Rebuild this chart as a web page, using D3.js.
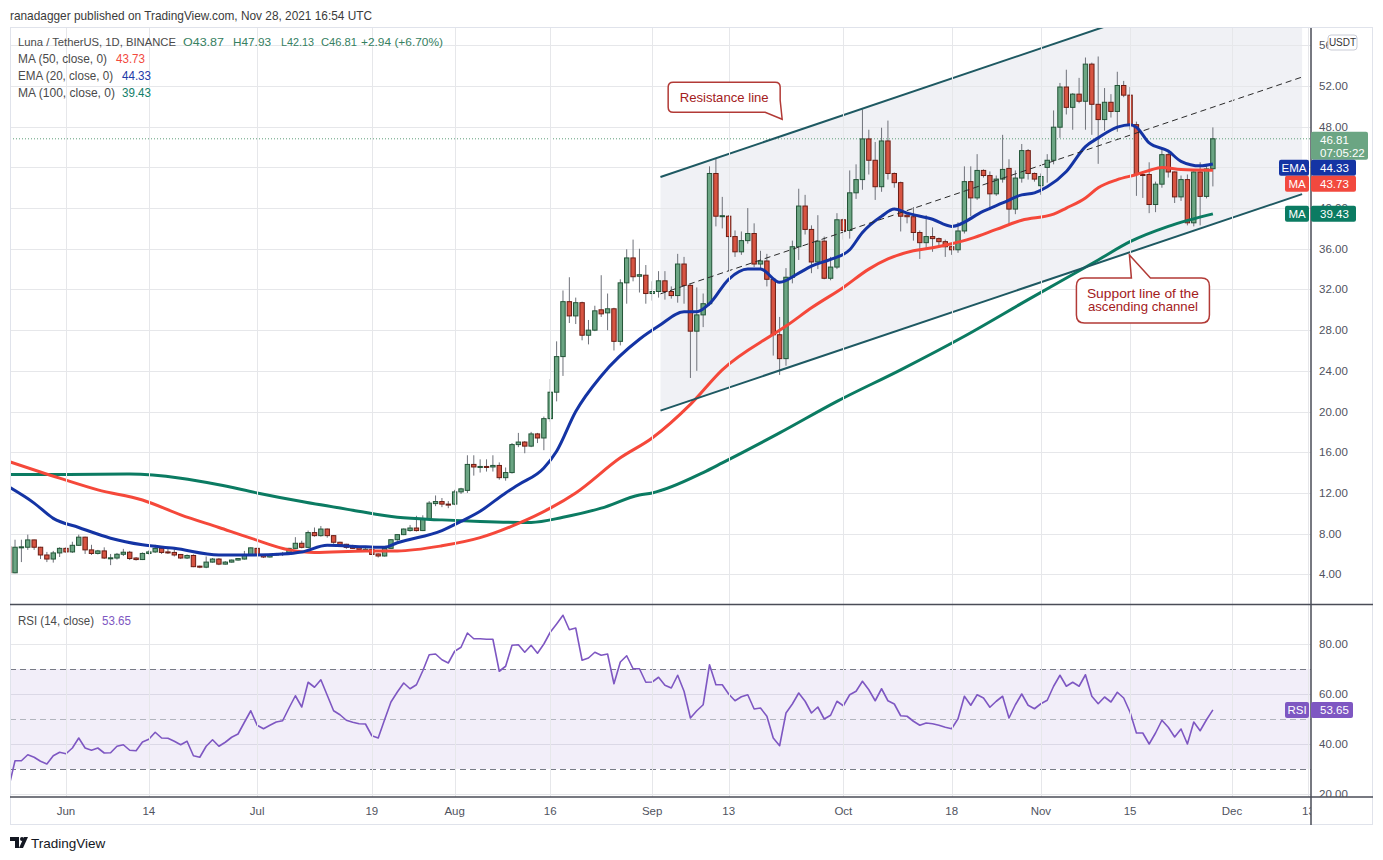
<!DOCTYPE html>
<html><head><meta charset="utf-8">
<script src="https://cdn.jsdelivr.net/npm/d3@7"></script>
<style>
html,body{margin:0;padding:0;background:#fff;}
svg{display:block;font-family:"Liberation Sans",Arial,sans-serif;}
</style></head><body>
<svg id="chart" width="1383" height="860"></svg>
<script>
// ---------------- DATA (daily candles from 2021-05-23, index 0) ----------------
const firstDay = [2021, 4, 23]; // UTC year, month(0-based), day
const opens = [6.7,4.15,6.6,6.66,7.38,6.66,5.9,5.5,6.1,6.55,6.2,
6.85,7.65,6.4,6.05,6.3,5.6,5.6,5.97,6.17,5.6,
5.45,6.05,6.2,6.55,6.2,6.15,5.95,5.6,5.85,4.8,
4.7,5.2,5.5,5.0,5.2,5.4,5.5,5.95,6.55,5.9,
5.7,5.9,6.0,6.0,6.55,7.05,6.65,8.1,7.8,8.45,
7.8,7.15,6.95,6.8,6.65,6.45,6.45,6.0,5.8,6.55,
7.4,7.9,8.3,8.55,8.3,9.45,10.95,11.15,10.9,10.9,
12.1,12.25,14.8,14.55,14.6,14.55,14.7,13.5,14.0,16.75,
17.0,16.6,17.8,17.4,19.3,21.9,25.4,30.8,29.4,30.7,
27.5,28.0,30.0,29.7,30.1,26.9,32.65,35.1,33.3,33.4,
31.6,31.8,32.85,31.8,31.4,34.5,32.4,27.9,29.5,30.6,
43.4,39.2,39.2,37.2,35.7,36.8,37.5,34.5,34.8,33.0,
27.55,25.2,33.2,36.2,40.2,37.9,34.7,36.75,33.1,34.2,
38.85,37.8,41.5,42.8,46.8,44.7,42.1,46.6,43.4,42.5,
39.3,39.15,37.6,36.6,37.2,37.0,36.7,36.2,35.9,37.75,
42.6,41.0,43.7,43.2,41.4,42.85,43.9,39.9,42.95,45.65,
43.4,42.2,44.0,44.7,47.95,51.9,49.9,51.2,50.5,54.15,
50.2,48.7,50.4,49.5,52.05,51.1,48.2,43.3,43.3,40.35,
42.35,45.25,43.55,41.1,42.8,38.55,43.55,41.15,43.87];
const highs = [6.9,7.4,7.4,7.9,7.4,6.7,6.2,6.3,6.66,6.66,7.2,
7.9,7.7,6.9,6.4,6.65,6.0,6.1,6.5,6.3,5.7,
6.15,6.35,6.9,6.7,6.55,6.55,6.0,5.95,5.95,4.85,
5.75,5.6,5.6,5.3,5.45,5.6,6.3,6.65,6.6,5.95,
5.95,6.1,6.2,6.6,7.65,7.3,8.3,8.6,8.75,8.5,
7.85,7.2,7.0,6.9,6.7,6.6,6.5,6.05,6.6,7.45,
7.95,8.5,8.85,9.75,9.8,11.2,11.75,11.5,11.2,12.3,
12.5,15.7,15.7,15.3,15.3,15.7,15.0,14.5,16.9,17.9,
17.1,18.0,17.9,19.5,23.2,26.9,31.9,33.2,31.2,30.8,
29.0,30.4,33.4,31.6,30.2,33.0,35.95,36.9,36.0,34.4,
32.8,33.8,33.8,32.3,35.5,35.2,32.5,32.2,31.6,44.1,
44.9,41.1,39.3,37.8,37.7,40.0,38.5,35.8,35.5,33.1,
29.3,34.1,36.8,41.9,41.3,38.3,39.3,37.2,35.2,39.5,
39.0,43.7,44.3,49.7,47.7,46.5,47.9,48.6,43.5,42.6,
39.5,40.1,37.8,39.3,38.1,37.1,36.9,36.3,38.6,44.1,
44.1,45.3,43.8,43.6,43.2,47.2,44.8,43.7,46.3,45.8,
43.5,43.4,45.3,49.6,52.3,53.6,51.3,52.8,54.8,54.3,
54.9,51.8,51.2,53.4,52.5,51.9,48.5,43.5,44.5,42.6,
45.8,45.6,43.6,43.2,43.3,43.7,44.5,44.2,47.93];
const lows = [4.0,4.1,5.2,6.4,6.4,5.5,5.2,5.15,5.7,6.1,6.1,
6.8,6.0,5.9,5.95,5.5,4.9,5.45,5.8,5.4,5.35,
5.4,5.95,6.1,6.0,6.0,5.75,5.5,5.5,4.7,4.6,
4.6,5.15,4.9,4.95,5.15,5.35,5.45,5.9,5.85,5.6,
5.65,5.85,5.8,5.95,6.5,6.55,6.6,7.7,7.7,7.6,
7.0,6.8,6.5,6.5,6.4,6.35,5.9,5.65,5.75,6.5,
7.3,7.85,8.2,8.2,8.25,9.4,10.7,10.6,10.5,10.8,
11.9,12.0,13.7,14.0,14.1,14.1,13.3,13.2,13.9,16.5,
15.9,16.5,16.9,16.2,19.0,21.0,23.5,28.7,28.6,27.0,
26.6,27.9,29.3,28.0,26.0,26.5,30.6,32.8,31.7,30.6,
30.9,31.2,31.0,31.1,30.7,30.6,23.3,24.0,28.3,30.4,
38.2,38.0,33.8,35.2,35.4,36.5,34.2,34.0,32.3,25.5,
23.6,24.5,32.6,34.9,37.4,33.6,34.0,33.0,32.9,34.0,
36.9,37.0,40.9,41.8,43.3,40.8,41.6,42.8,42.0,37.7,
38.5,36.8,35.0,36.0,35.7,36.2,35.2,35.4,35.6,37.5,
39.2,40.8,43.0,39.8,41.2,42.5,38.3,39.4,42.5,42.8,
42.6,41.3,42.5,44.3,46.9,49.2,47.7,50.3,47.7,47.2,
44.35,47.6,48.9,47.5,50.9,47.7,41.2,41.0,39.5,39.6,
42.0,43.0,40.5,40.7,38.3,38.2,38.3,40.95,42.13];
const closes = [4.15,6.66,6.7,7.38,6.66,5.9,5.5,6.1,6.55,6.2,6.85,
7.65,6.4,6.05,6.3,5.6,5.62,5.97,6.17,5.55,5.45,
6.05,6.2,6.55,6.15,6.1,5.9,5.6,5.85,4.75,4.7,
5.2,5.5,5.0,5.2,5.4,5.55,5.95,6.6,5.9,5.7,
5.9,6.0,6.05,6.55,7.05,6.65,8.1,7.8,8.45,7.8,
7.15,6.9,6.65,6.55,6.45,6.47,5.95,5.8,6.55,7.4,
7.9,8.45,8.55,8.3,9.45,11.0,11.15,10.9,10.85,12.1,
12.4,14.8,14.55,14.6,14.5,14.7,13.5,14.0,16.75,17.0,
16.6,17.8,17.4,19.3,21.9,25.4,30.8,29.4,30.7,27.5,
28.0,29.9,29.6,30.1,26.9,32.65,35.1,33.25,33.45,31.6,
31.8,32.85,31.8,31.4,34.5,32.4,27.9,29.5,30.6,43.4,
39.2,39.25,37.2,35.7,36.8,37.5,34.5,34.8,33.0,27.55,
25.2,33.2,36.2,40.2,37.9,34.7,36.75,33.1,34.2,38.85,
37.8,41.5,42.8,46.8,44.7,42.1,46.6,43.4,42.5,39.2,
39.15,37.6,36.6,37.2,37.0,36.7,36.2,35.9,37.75,42.6,
41.0,43.7,43.2,41.4,42.85,43.8,39.9,42.95,45.65,43.4,
42.85,43.1,44.7,47.95,51.9,49.9,51.2,50.5,54.15,50.2,
48.7,50.4,49.5,52.05,51.1,48.2,43.3,43.25,40.35,42.35,
45.25,43.55,41.1,42.8,38.55,43.55,41.15,43.85,46.81];
const rsi14 = [22.5,33.3,33.3,35.7,34.7,33.1,32.0,35.3,36.7,36.1,38.4,
42.4,38.4,37.5,38.4,36.4,36.5,39.1,39.7,37.5,37.3,
40.8,41.9,44.7,42.4,42.3,41.1,39.7,41.1,35.3,34.7,
39.1,41.7,39.1,40.7,42.7,44.0,48.7,53.3,47.5,46.1,
47.5,48.8,49.3,54.4,59.3,54.8,64.7,62.7,65.7,59.5,
53.3,51.7,49.5,48.7,48.1,48.0,43.3,42.4,49.7,56.8,
60.8,64.4,62.1,63.7,69.3,75.7,76.0,73.7,72.4,77.1,
78.7,84.4,82.1,82.1,81.9,81.9,69.1,71.1,79.5,79.7,
76.7,79.5,76.3,80.0,84.7,88.0,91.5,85.7,86.4,73.5,
74.4,76.7,75.5,76.0,64.1,72.8,75.3,70.1,70.1,64.7,
64.8,66.7,63.5,62.4,67.5,61.1,50.4,53.3,55.7,71.7,
63.7,63.7,60.0,57.3,58.9,59.7,54.0,54.4,51.1,42.4,
39.3,52.4,56.0,60.4,57.1,52.4,54.8,50.0,51.5,57.1,
55.3,59.7,61.1,65.1,61.7,57.3,62.1,57.3,56.0,51.3,
51.1,49.1,47.5,48.4,48.1,47.5,46.7,46.1,50.1,59.1,
55.5,59.7,58.4,54.7,57.1,59.1,50.4,55.7,60.0,55.5,
54.1,56.1,57.5,63.1,67.5,63.1,64.7,63.1,67.7,59.1,
56.1,58.8,56.8,60.7,58.4,52.7,44.4,44.4,40.0,44.4,
49.5,46.7,42.8,46.0,40.0,48.8,45.3,49.7,53.65];
// moving averages: [day index from 2021-05-23, value]
const ema20 = [[0,12.6],[4,11.0],[7,9.5],[11,8.6],[16,7.55],[21,6.9],[26,6.55],[33,5.9],[38,5.9],[43,6.0],[46,6.2],[50,6.85],[56,6.7],[59,6.65],[61,7.1],[68,8.3],[71,9.2],[74,10.2],[78,12.0],[80,12.8],[84,14.45],[86,16.1],[89,20.0],[93,23.5],[99,27.1],[102,28.4],[106,29.8],[108,29.8],[110,30.6],[113,33.0],[116,34.0],[118,34.0],[121,32.7],[124,33.6],[126,34.3],[129,34.95],[132,35.9],[134,37.6],[137,39.2],[139,39.9],[141,39.5],[145,38.9],[148,38.2],[153,39.7],[156,40.5],[159,41.3],[161,41.5],[163,42.1],[166,43.6],[169,46.05],[171,46.9],[174,47.95],[176,48.2],[177,47.95],[179,46.4],[182,45.6],[184,44.6],[187,44.15],[189,44.33]];
const ma50 = [[0,15.1],[8,13.45],[14,12.3],[21,11.3],[27,9.85],[33,8.6],[38,7.55],[44,6.4],[48,6.15],[56,6.3],[61,6.3],[68,6.8],[74,7.6],[80,9.0],[85,10.5],[89,12.0],[96,15.45],[101,17.4],[107,20.7],[112,24.1],[120,27.6],[122,28.4],[126,30.2],[131,32.2],[135,34.0],[138,35.0],[142,35.8],[145,36.1],[148,36.5],[151,37.0],[155,37.9],[159,38.8],[164,39.4],[166,40.0],[169,41.0],[171,42.0],[174,42.8],[177,43.3],[179,43.7],[181,44.0],[184,43.8],[189,43.73]];
const ma100 = [[0,13.8],[9,13.8],[19,13.85],[27,13.45],[33,12.8],[39,12.0],[46,11.15],[54,10.3],[61,9.6],[68,9.35],[74,9.2],[82,9.1],[87,9.6],[93,10.5],[99,11.8],[101,12.0],[109,14.0],[112,14.95],[121,17.9],[130,21.0],[140,24.1],[150,27.4],[160,31.0],[171,34.9],[176,36.7],[182,38.2],[189,39.43]];
// drawings (trend channel) in [day index, price]
const channelUpper = [[102.3,43.05],[203.0,64.4]];
const channelLower = [[102.3,20.09],[203.0,41.37]];
const channelMid   = [[102.3,31.57],[203.0,52.88]];
// axis ticks
const priceTicks = [4,8,12,16,20,24,28,32,36,40,44,48,52,56];
const rsiTicks = [20,40,60,80];
const timeTickDates = ["2021-06-01","2021-06-14","2021-07-01","2021-07-19","2021-08-01","2021-08-16","2021-09-01","2021-09-13","2021-10-01","2021-10-18","2021-11-01","2021-11-15","2021-12-01","2021-12-13"];
const timeTickLabels = ["Jun","14","Jul","19","Aug","16","Sep","13","Oct","18","Nov","15","Dec","13"];
const lastValues = {close:46.81, ema20:44.33, ma50:43.73, ma100:39.43, rsi:53.65};

// ---------------- LAYOUT ----------------
const L=10, R=1311, PT=28, PB=604.5, RB=797, FR=1373, FB=825;
const svg = d3.select("#chart");
const day0 = Date.UTC(firstDay[0], firstDay[1], firstDay[2]);
const toDate = k => new Date(day0 + k*864e5);
const parse = s => { const p=s.split("-").map(Number); return new Date(Date.UTC(p[0],p[1]-1,p[2])); };

const x = d3.scaleUtc().domain([parse("2021-06-01"), parse("2021-12-01")]).range([66,1232]);
const y = d3.scaleLinear().domain([4,52]).range([574.3,86]);
const yr = d3.scaleLinear().domain([20,80]).range([794,644]);
const X = k => x(toDate(k));

const defs = svg.append("defs");
defs.append("clipPath").attr("id","cp").append("rect").attr("x",L).attr("y",PT).attr("width",R-L).attr("height",PB-PT);
defs.append("clipPath").attr("id","cr").append("rect").attr("x",L).attr("y",PB).attr("width",R-L).attr("height",RB-PB);
defs.append("clipPath").attr("id","cxa").append("rect").attr("x",L).attr("y",RB).attr("width",R-L).attr("height",FB-RB);
defs.append("clipPath").attr("id","cya").append("rect").attr("x",R).attr("y",PT).attr("width",FR-R).attr("height",PB-PT);
defs.append("clipPath").attr("id","cyr").append("rect").attr("x",R).attr("y",PB+1).attr("width",FR-R).attr("height",RB-PB-1);

// helper for width-fitted text
function fitText(g, t, xx, yy, w, size, color, anchor){
  const el = g.append("text").attr("x",xx).attr("y",yy).attr("font-size",size).attr("fill",color).text(t);
  if (w) el.attr("textLength",w).attr("lengthAdjust","spacingAndGlyphs");
  if (anchor) el.attr("text-anchor",anchor);
  return el;
}

// header
fitText(svg,"ranadagger published on TradingView.com, Nov 28, 2021 16:54 UTC",10,19.5,362,13,"#3b3b3b");

const pricePane = svg.append("g").attr("clip-path","url(#cp)");
const rsiPane = svg.append("g").attr("clip-path","url(#cr)");

// channel shading
const shadePts = [channelUpper[0],channelUpper[1],channelLower[1],channelLower[0]];
pricePane.append("path")
  .attr("d", d3.line().x(d=>X(d[0])).y(d=>y(d[1]))(shadePts)+"Z")
  .attr("fill","#d5d9e2").attr("fill-opacity",0.36);

// grid
const gridColor = "#e6e7ea";
pricePane.selectAll(".hg").data(priceTicks).join("line")
  .attr("x1",L).attr("x2",R).attr("y1",d=>Math.round(y(d))+0.5).attr("y2",d=>Math.round(y(d))+0.5)
  .attr("stroke",gridColor);
rsiPane.selectAll(".hg").data(rsiTicks).join("line")
  .attr("x1",L).attr("x2",R).attr("y1",d=>Math.round(yr(d))+0.5).attr("y2",d=>Math.round(yr(d))+0.5)
  .attr("stroke",gridColor);
svg.append("g").selectAll("line").data(timeTickDates).join("line")
  .attr("x1",d=>Math.round(x(parse(d)))+0.5).attr("x2",d=>Math.round(x(parse(d)))+0.5)
  .attr("y1",PT).attr("y2",RB).attr("stroke",gridColor);

// RSI band
rsiPane.append("rect").attr("x",L).attr("width",R-L).attr("y",yr(70)).attr("height",yr(30)-yr(70))
  .attr("fill","#7e57c2").attr("fill-opacity",0.1);
[[70,"#787b86"],[30,"#787b86"],[50,"#b2b5be"]].forEach(([v,c])=>{
  rsiPane.append("line").attr("x1",L).attr("x2",R).attr("y1",Math.round(yr(v))+0.5).attr("y2",Math.round(yr(v))+0.5)
    .attr("stroke",c).attr("stroke-dasharray","6,4");
});

// current price dotted line
pricePane.append("line").attr("x1",L).attr("x2",R)
  .attr("y1",y(lastValues.close)).attr("y2",y(lastValues.close))
  .attr("stroke","#5f9f7a").attr("stroke-dasharray","1,2");

// candles
const idx = d3.range(closes.length);
const cg = pricePane.append("g");
cg.selectAll(".w").data(idx).join("line")
  .attr("x1",i=>X(i)).attr("x2",i=>X(i)).attr("y1",i=>y(highs[i])).attr("y2",i=>y(lows[i]))
  .attr("stroke","#6f727a").attr("stroke-width",1);
cg.selectAll(".b").data(idx).join("rect")
  .attr("x",i=>X(i)-2.2).attr("width",4.4)
  .attr("y",i=>y(Math.max(opens[i],closes[i])))
  .attr("height",i=>Math.max(1,Math.abs(y(opens[i])-y(closes[i]))))
  .attr("fill",i=>closes[i]>=opens[i]?"#6ba583":"#d75442")
  .attr("stroke",i=>closes[i]>=opens[i]?"#225437":"#6b1d14")
  .attr("stroke-width",1);

// moving averages
const maLine = d3.line().x(d=>X(d[0])).y(d=>y(d[1])).curve(d3.curveMonotoneX);
[[ma100,"#0b7b62"],[ma50,"#f5483a"],[ema20,"#1434a4"]].forEach(([arr,c])=>{
  pricePane.append("path").attr("d",maLine(arr)).attr("fill","none")
    .attr("stroke",c).attr("stroke-width",3).attr("stroke-linejoin","round");
});

// channel lines
const segLine = d3.line().x(d=>X(d[0])).y(d=>y(d[1]));
pricePane.append("path").attr("d",segLine(channelUpper)).attr("stroke","#1e5962").attr("stroke-width",2).attr("fill","none");
pricePane.append("path").attr("d",segLine(channelLower)).attr("stroke","#1e5962").attr("stroke-width",2).attr("fill","none");
pricePane.append("path").attr("d",segLine(channelMid)).attr("stroke","#2a2a2a").attr("stroke-width",1)
  .attr("stroke-dasharray","6,4").attr("fill","none");

// RSI line
rsiPane.append("path").attr("d", d3.line().x((d,i)=>X(i)).y(d=>yr(d))(rsi14))
  .attr("fill","none").attr("stroke","#7e57c2").attr("stroke-width",1.6).attr("stroke-linejoin","round");

// callouts
const calloutStroke="#b23a36", calloutText="#a3201c";
{ // resistance
  const ax = X(121.4), ay = y(48.73);
  const x0=ax-114, x1=ax-2, y0=ay-37, y1=ay-7, r=5;
  const p = `M${x0+r},${y0} H${x1-r} Q${x1},${y0} ${x1},${y0+r} V${y1-12} L${ax},${ay} L${x1-15},${y1} H${x0+r} Q${x0},${y1} ${x0},${y1-r} V${y0+r} Q${x0},${y0} ${x0+r},${y0} Z`;
  svg.append("path").attr("d",p).attr("fill","#fff").attr("stroke",calloutStroke).attr("stroke-width",1.5);
  fitText(svg,"Resistance line",(x0+x1)/2,(y0+y1)/2+4.5,89,13.5,calloutText,"middle");
}
{ // support
  const ax = X(175.9), ay = y(35.39);
  const x0=ax-53, x1=ax+80, y0=ay+23, y1=ay+68, r=8;
  const p = `M${x0+r},${y0} H${ax+2} L${ax},${ay} L${ax+21},${y0} H${x1-r} Q${x1},${y0} ${x1},${y0+r} V${y1-r} Q${x1},${y1} ${x1-r},${y1} H${x0+r} Q${x0},${y1} ${x0},${y1-r} V${y0+r} Q${x0},${y0} ${x0+r},${y0} Z`;
  svg.append("path").attr("d",p).attr("fill","#fff").attr("stroke",calloutStroke).attr("stroke-width",1.5);
  const cx=(x0+x1)/2;
  fitText(svg,"Support line of the",cx,y0+20,112,13.5,calloutText,"middle");
  fitText(svg,"ascending channel",cx,y0+33,110,13.5,calloutText,"middle");
}

// frame and axes lines
svg.append("rect").attr("x",L+0.5).attr("y",PT-0.5).attr("width",FR-L-1).attr("height",FB-PT).attr("fill","none").attr("stroke","#e0e3eb");
svg.append("line").attr("x1",L).attr("x2",FR).attr("y1",PB).attr("y2",PB).attr("stroke","#4a4d57").attr("stroke-width",1.5);
svg.append("line").attr("x1",L).attr("x2",FR).attr("y1",RB).attr("y2",RB).attr("stroke","#4a4d57").attr("stroke-width",1.5);
svg.append("line").attr("x1",R).attr("x2",R).attr("y1",PT).attr("y2",FB).attr("stroke","#4a4d57").attr("stroke-width",1.5);

// price axis labels
const axisText="#50535e";
svg.append("g").attr("clip-path","url(#cya)").selectAll("text").data(priceTicks).join("text")
  .attr("x",1319).attr("y",d=>y(d)+4).attr("font-size",11.5).attr("fill",axisText).text(d=>d.toFixed(2));
svg.append("g").attr("clip-path","url(#cyr)").selectAll("text").data(rsiTicks).join("text")
  .attr("x",1319).attr("y",d=>yr(d)+4).attr("font-size",11.5).attr("fill",axisText).text(d=>d.toFixed(2));
svg.append("g").attr("clip-path","url(#cxa)").selectAll("text").data(timeTickDates).join("text")
  .attr("x",d=>x(parse(d))).attr("y",815).attr("text-anchor","middle").attr("font-size",11.5).attr("fill",axisText)
  .text((d,i)=>timeTickLabels[i]);

// USDT button
svg.append("rect").attr("x",1328).attr("y",35).attr("width",29).attr("height",15).attr("rx",3)
  .attr("fill","#fff").attr("stroke","#c9ccd6");
svg.append("text").attr("x",1342.5).attr("y",46).attr("text-anchor","middle").attr("font-size",10).attr("fill","#333").text("USDT");

// axis value labels with simple collision avoidance
const labels = [
  {name:null, val:lastValues.close, color:"#6ba583", h:28, off:7, w:57, lines:[lastValues.close.toFixed(2),"07:05:22"]},
  {name:"EMA", nameW:30, val:lastValues.ema20, color:"#1434a4", h:16, off:8, w:45, lines:[lastValues.ema20.toFixed(2)]},
  {name:"MA", nameW:24, val:lastValues.ma50, color:"#f2493e", h:16, off:8, w:45, lines:[lastValues.ma50.toFixed(2)]},
  {name:"MA", nameW:24, val:lastValues.ma100, color:"#0b7b62", h:16, off:8, w:45, lines:[lastValues.ma100.toFixed(2)]}
];
let lastBottom = -Infinity;
labels.forEach(lb=>{
  let top = y(lb.val)-lb.off;
  if (top < lastBottom) top = lastBottom;
  lastBottom = top+lb.h;
  svg.append("rect").attr("x",R).attr("y",top).attr("width",lb.w).attr("height",lb.h).attr("rx",2).attr("fill",lb.color);
  lb.lines.forEach((t,j)=>svg.append("text").attr("x",1320).attr("y",top+12+j*13).attr("font-size",11.5).attr("fill","#fff").text(t));
  if (lb.name){
    svg.append("rect").attr("x",R-2-lb.nameW).attr("y",top).attr("width",lb.nameW).attr("height",lb.h).attr("rx",2).attr("fill",lb.color);
    svg.append("text").attr("x",R-2-lb.nameW/2).attr("y",top+12).attr("text-anchor","middle").attr("font-size",11.5).attr("fill","#fff").text(lb.name);
  }
});
{ // RSI label
  const top = yr(lastValues.rsi)-8;
  svg.append("rect").attr("x",R).attr("y",top).attr("width",42).attr("height",16).attr("rx",2).attr("fill","#7e57c2");
  svg.append("text").attr("x",1320).attr("y",top+12).attr("font-size",11.5).attr("fill","#fff").text(lastValues.rsi.toFixed(2));
  svg.append("rect").attr("x",R-26).attr("y",top).attr("width",24).attr("height",16).attr("rx",2).attr("fill","#7e57c2");
  svg.append("text").attr("x",R-14).attr("y",top+12).attr("text-anchor","middle").attr("font-size",11.5).attr("fill","#fff").text("RSI");
}

// legends
const lg = svg.append("g");
const grey="#4a4a4a", green="#35805f";
fitText(lg,"Luna / TetherUS, 1D, BINANCE",18,46,158,11.6,grey);
[["O43.87",183,41],["H47.93",233,38],["L42.13",281,33],["C46.81",321,36],["+2.94 (+6.70%)",361,82]].forEach(([t,xx,w])=>
  fitText(lg,t,xx,46,w,11.6,green));
fitText(lg,"MA (50, close, 0)",18,63,89,12.5,grey);
fitText(lg,lastValues.ma50.toFixed(2),116,63,29,12.5,"#f2493e");
fitText(lg,"EMA (20, close, 0)",18,80,95,12.5,grey);
fitText(lg,lastValues.ema20.toFixed(2),122,80,29,12.5,"#1e3aa8");
fitText(lg,"MA (100, close, 0)",18,96.5,97,12.5,grey);
fitText(lg,lastValues.ma100.toFixed(2),122,96.5,29,12.5,"#12806a");
fitText(lg,"RSI (14, close)",18,625,76,12.5,grey);
fitText(lg,lastValues.rsi.toFixed(2),102,625,29,12.5,"#7e57c2");

// TradingView logo
const logo = svg.append("g").attr("fill","#131722");
logo.append("path").attr("d","M10,837 h9 v11 h-4 v-7 h-5 z");
logo.append("circle").attr("cx",22).attr("cy",839).attr("r",2);
logo.append("path").attr("d","M24,837 h4 l-5,11 h-4 z");
svg.append("text").attr("x",31).attr("y",847.5).attr("font-size",13.5).attr("fill","#131722").text("TradingView");
</script>
</body></html>
